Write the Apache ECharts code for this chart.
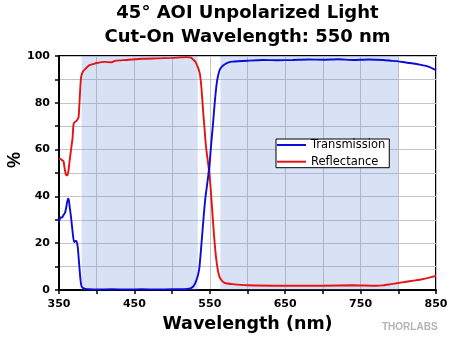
<!DOCTYPE html>
<html><head><meta charset="utf-8">
<script src="https://cdn.jsdelivr.net/npm/echarts@6/dist/echarts.min.js"></script>
<style>html,body{margin:0;padding:0;background:#fff}#c{width:450px;height:340px}</style>
</head><body><div id="c"></div>
<script>
const titleLines = ["45° AOI Unpolarized Light", "Cut-On Wavelength: 550 nm"];
const xName = "Wavelength (nm)";
const yName = "%";
const seriesNames = ["Transmission", "Reflectance"];
const shadedBands = [[380, 534], [564, 800]];

const transWl = [350,352,354,356,358,360,361,362,363,364,366,368,370,372,373,374,375,376,377,378,379,380,382,385,390,400,420,440,460,480,500,510,520,525,528,530,532,534,536,538,540,542,544,546,548,550,552,554,556,558,560,563,566,570,575,580,600,620,640,660,680,700,720,740,760,780,790,800,810,820,830,840,850];
const transVal = [29,31,31,32,33,36,38,39,38.5,36,31,25,20.5,21,21,20,18,14,10,6,3,1.5,0.8,0.5,0.3,0.2,0.3,0.2,0.3,0.2,0.3,0.3,0.4,0.8,1.5,2.5,4,6,9,16,24,32,39,44,49,55,63,70,78,85,90,94,95.5,96.5,97.3,97.6,98,98.3,98.2,98.3,98.5,98.4,98.6,98.3,98.5,98.3,98,97.7,97.2,96.8,96.2,95.5,94];

const reflWl = [350,352,354,356,357,358,359,360,361,362,363,364,366,368,369,370,372,374,376,377,378,379,380,382,385,390,395,400,410,420,425,440,460,480,500,520,525,528,531,533,535,537,539,541,543,545,547,549,551,553,555,557,559,561,563,566,570,580,600,650,700,740,770,780,790,800,810,820,830,840,850];
const reflVal = [56,56,55.5,55,53,51,49.5,49,49,50,52,55,60,65,70,71.5,72,72.5,74,79,85,90,92,93.5,94.5,96,96.5,97,97.5,97.3,98,98.3,98.8,99,99.2,99.5,99.3,98.5,97.5,96,94.5,92,86,77,69,61,56,51,44,35,26,18,12,8,5.5,4,3,2.5,2,1.8,1.8,2,1.8,2,2.5,3,3.5,4,4.5,5.2,6];

const zip = (a, b) => a.map((v, i) => [v, b[i]]);
const chart = echarts.init(document.getElementById('c'), null, {renderer: 'canvas'});
const D = '"DejaVu Sans", Verdana, sans-serif';
const A = 'Arial, "Liberation Sans", sans-serif';
chart.setOption({
  animation: false,
  backgroundColor: '#fff',
  grid: {left: 59, right: 14, top: 56, bottom: 50, outerBoundsMode: 'none', containLabel: false,
    show: true, borderColor: '#000', borderWidth: 2, backgroundColor: 'transparent'},
  graphic: [
    {type: 'text', x: 247.5, y: 1, style: {text: titleLines[0] + '\n' + titleLines[1], font: 'bold 18px ' + D, fill: '#000', align: 'center', verticalAlign: 'top', lineHeight: 24.5}},
    {type: 'text', x: 382, y: 322, style: {text: 'THORLABS', font: 'bold 10px ' + A, fill: '#b4b4b4'}}
  ],
  legend: {
    orient: 'vertical', left: 276, top: 139, padding: [0, 4, 0, 1], itemGap: 4.7,
    itemWidth: 29, itemHeight: 2, icon: 'rect',
    borderColor: '#000', borderWidth: 1, backgroundColor: '#fff',
    textStyle: {fontFamily: D, fontSize: 11.5, color: '#000', lineHeight: 12},
    data: seriesNames
  },
  xAxis: {
    type: 'value', min: 350, max: 850, interval: 50,
    name: xName, nameLocation: 'middle', nameGap: 25, nameMoveOverlap: false,
    nameTextStyle: {fontFamily: D, fontWeight: 'bold', fontSize: 17.5, color: '#000'},
    axisLine: {lineStyle: {color: '#000', width: 2}},
    axisTick: {show: true, length: 4, lineStyle: {color: '#000', width: 1.5}},
    axisLabel: {margin: 9, fontFamily: D, fontWeight: 'bold', fontSize: 11, color: '#000',
      formatter: v => ((v - 350) % 100 === 0 ? String(v) : '')},
    splitLine: {show: true, lineStyle: {color: '#c4c4cc', width: 1}}
  },
  yAxis: {
    type: 'value', min: 0, max: 100, interval: 10,
    name: yName, nameLocation: 'middle', nameGap: 35, nameMoveOverlap: false,
    nameTextStyle: {fontFamily: A, fontWeight: 'bold', fontSize: 18, color: '#000', padding: [0, 0, 0, 26]},
    axisLine: {show: true, lineStyle: {color: '#000', width: 2}},
    axisTick: {show: true, length: 4, lineStyle: {color: '#000', width: 1.5}},
    axisLabel: {margin: 9, fontFamily: D, fontWeight: 'bold', fontSize: 11, color: '#000',
      formatter: v => (v % 20 === 0 ? String(v) : '')},
    splitLine: {show: true, lineStyle: {color: '#c4c4cc', width: 1}}
  },
  series: [
    {name: seriesNames[0], type: 'line', data: zip(transWl, transVal), showSymbol: false, smooth: 0.2,
      lineStyle: {color: '#0c0cd8', width: 1.9}, itemStyle: {color: '#0c0cd8'}, z: 3,
      markArea: {silent: true, itemStyle: {color: 'rgba(120,150,215,0.28)'},
        data: shadedBands.map(b => [{xAxis: b[0]}, {xAxis: b[1]}])}},
    {name: seriesNames[1], type: 'line', data: zip(reflWl, reflVal), showSymbol: false, smooth: 0.2,
      lineStyle: {color: '#e41414', width: 1.9}, itemStyle: {color: '#e41414'}, z: 2}
  ]
});
</script></body></html>
